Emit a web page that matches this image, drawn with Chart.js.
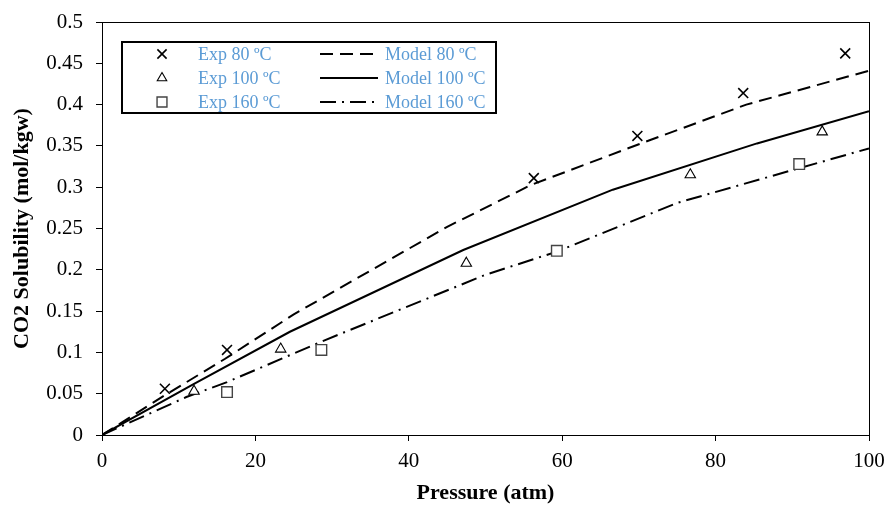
<!DOCTYPE html>
<html>
<head>
<meta charset="utf-8">
<script src="https://cdn.jsdelivr.net/npm/chart.js@4"></script>
<style>
  html, body { margin: 0; padding: 0; background: #fff; }
  #wrap { width: 889px; height: 507px; }
</style>
</head>
<body>
<div id="wrap"><canvas id="solChart"></canvas></div>
<script>
// experimental points (pressure atm, solubility mol/kgw)
const exp80P = [8.2, 16.3, 56.3, 69.8, 83.6, 96.9];
const exp80S = [0.056, 0.103, 0.311, 0.362, 0.414, 0.462];
const exp100P = [12.0, 23.3, 47.5, 76.7, 93.9];
const exp100S = [0.053, 0.104, 0.208, 0.315, 0.367];
const exp160P = [16.3, 28.6, 59.3, 90.9];
const exp160S = [0.052, 0.103, 0.223, 0.328];

// model curves
const model80P = [0, 8, 16, 25, 45, 56, 70, 84, 100];
const model80S = [0, 0.047, 0.092, 0.146, 0.252, 0.303, 0.352, 0.400, 0.441];
const model100P = [0, 12, 24.5, 47.1, 66.6, 85.4, 100];
const model100S = [0, 0.062, 0.125, 0.224, 0.297, 0.353, 0.392];
const model160P = [0, 11, 16.3, 28.6, 50, 59.3, 75, 90.9, 100];
const model160S = [0, 0.046, 0.064, 0.113, 0.194, 0.222, 0.281, 0.323, 0.347];

const xTicks = [0, 20, 40, 60, 80, 100];
const yTicks = [0, 0.05, 0.1, 0.15, 0.2, 0.25, 0.3, 0.35, 0.4, 0.45, 0.5];

const toXY = (xs, ys) => xs.map((x, i) => ({ x: x, y: ys[i] }));
const SERIF = '"Liberation Serif", "Times New Roman", serif';
const legendBlue = '#5b9bd5';

const datasets = [
    { label: 'Exp 80 ºC', data: toXY(exp80P, exp80S), showLine: false, pointStyle: 'crossRot',
      pointRadius: 7, borderColor: '#000', backgroundColor: '#000', pointBorderWidth: 1.6 },
    { label: 'Exp 100 ºC', data: toXY(exp100P, exp100S), showLine: false, pointStyle: 'triangle',
      pointRadius: 6, borderColor: '#000', backgroundColor: '#fff', pointBorderWidth: 1.1 },
    { label: 'Exp 160 ºC', data: toXY(exp160P, exp160S), showLine: false, pointStyle: 'rect',
      pointRadius: 7.5, borderColor: '#444', backgroundColor: '#fff', pointBorderWidth: 1.4 },
    { label: 'Model 80 ºC', data: toXY(model80P, model80S), showLine: true, pointRadius: 0,
      borderColor: '#000', borderWidth: 2, borderDash: [13, 7] },
    { label: 'Model 100 ºC', data: toXY(model100P, model100S), showLine: true, pointRadius: 0,
      borderColor: '#000', borderWidth: 2 },
    { label: 'Model 160 ºC', data: toXY(model160P, model160S), showLine: true, pointRadius: 0,
      borderColor: '#000', borderWidth: 2, borderDash: [16, 6, 2, 6] }
];

// frame around plot + boxed legend drawn inside the plot
const framePlugin = {
    id: 'frame',
    afterDraw(chart) {
        const { ctx, chartArea: a } = chart;
        ctx.save();
        ctx.strokeStyle = '#000';
        ctx.lineWidth = 1;
        ctx.strokeRect(a.left + 0.5, a.top + 0.5, a.right - a.left, a.bottom - a.top);

        // legend box
        const bx = a.left + 20, by = a.top + 20, bw = 374, bh = 71;
        ctx.fillStyle = '#fff';
        ctx.fillRect(bx, by, bw, bh);
        ctx.lineWidth = 2;
        ctx.strokeRect(bx, by, bw, bh);

        ctx.font = '18px ' + SERIF;
        ctx.textBaseline = 'middle';
        const rows = [by + 12, by + 36, by + 60];
        for (let i = 0; i < 3; i++) {
            const ds = datasets[i];
            const y = rows[i];
            ctx.strokeStyle = ds.borderColor;
            ctx.fillStyle = ds.backgroundColor;
            ctx.lineWidth = ds.pointBorderWidth;
            Chart.helpers.drawPoint(ctx, { pointStyle: ds.pointStyle, radius: ds.pointRadius - 0.5,
                borderWidth: ds.pointBorderWidth }, bx + 40, y);
            ctx.fillStyle = legendBlue;
            ctx.fillText(ds.label, bx + 76, y + 1);

            const m = datasets[i + 3];
            ctx.strokeStyle = '#000';
            ctx.lineWidth = 2;
            ctx.setLineDash(m.borderDash || []);
            ctx.beginPath();
            ctx.moveTo(bx + 198, y);
            ctx.lineTo(bx + 256, y);
            ctx.stroke();
            ctx.setLineDash([]);
            ctx.fillText(m.label, bx + 263, y + 1);
        }
        ctx.restore();
    }
};

new Chart(document.getElementById('solChart'), {
    type: 'scatter',
    data: { datasets: datasets },
    options: {
        responsive: true,
        maintainAspectRatio: false,
        animation: false,
        layout: { padding: { top: 22, right: 20, bottom: 0, left: 0 } },
        plugins: { legend: { display: false }, tooltip: { enabled: false } },
        scales: {
            x: {
                type: 'linear', min: 0, max: 100,
                afterBuildTicks: s => { s.ticks = xTicks.map(v => ({ value: v })); },
                afterFit: s => { s.height = 72; s.paddingLeft = 0; s.paddingRight = 0; },
                grid: { drawOnChartArea: false, drawTicks: true, tickLength: 6, color: '#000' },
                border: { display: true, color: '#000', width: 1 },
                ticks: { color: '#000', font: { family: SERIF, size: 21 }, padding: 8 },
                title: { display: true, text: 'Pressure (atm)', color: '#000',
                         font: { family: SERIF, size: 22, weight: 'bold' }, padding: { top: 4, bottom: 0 } }
            },
            y: {
                type: 'linear', min: 0, max: 0.5,
                afterBuildTicks: s => { s.ticks = yTicks.map(v => ({ value: v })); },
                afterFit: s => { s.width = 102; s.paddingTop = 0; s.paddingBottom = 0; },
                grid: { drawOnChartArea: false, drawTicks: true, tickLength: 6, color: '#000' },
                border: { display: true, color: '#000', width: 1 },
                ticks: { color: '#000', font: { family: SERIF, size: 21 }, padding: 13,
                         callback: v => String(Number(v.toFixed(2))) },
                title: { display: true, text: 'CO2 Solubility (mol/kgw)', color: '#000',
                         font: { family: SERIF, size: 22, weight: 'bold' }, padding: { top: 9, bottom: 2 } }
            }
        }
    },
    plugins: [framePlugin]
});
</script>
</body>
</html>
